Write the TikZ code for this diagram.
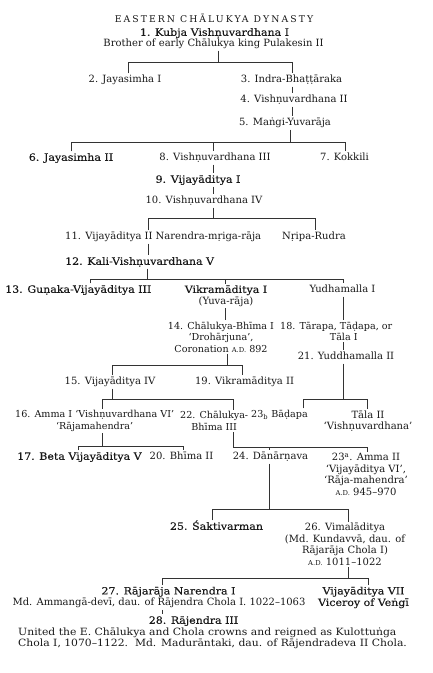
\documentclass[tikz,border=0pt]{standalone}
\usepackage{fontspec}
\setmainfont{DejaVu Serif}
\newfontfamily\titlefont{DejaVu Serif}[LetterSpace=22]
\newfontfamily\widefont{DejaVu Serif}[FakeStretch=1.08]
\newfontfamily\darkfont{DejaVu Serif}[FakeStretch=1.1,FakeBold=0.2]
\newcommand{\AD}{{\fontsize{6.8}{8}\selectfont A.D.}}
\newcommand{\dk}[1]{{\darkfont #1}}
\begin{document}
\begin{tikzpicture}[x=1pt,y=-1pt,
  lbl/.style={inner xsep=0pt, inner ysep=1.5pt, font=\fontsize{10}{11.5}\selectfont, text=black!90},
  small/.style={font=\fontsize{9.6}{11.5}\selectfont},
  one/.style={lbl, text height=7.7pt, text depth=2.2pt},
  multi/.style={lbl, align=center},
  conn/.style={line width=0.55pt, draw=black!80}]
\useasboundingbox (0,0) rectangle (433,673);
\fill[white] (0,0) rectangle (433,673);

% ---------- nodes ----------
\node[one,font=\fontsize{9.3}{11}\titlefont] (title) at (214,20) {EASTERN CHĀLUKYA DYNASTY};
\node[one] (n1) at (214.5,33) {\dk{1. Kubja Vishṇuvardhana I}};
\node[one] (n1b) at (213.5,44) {Brother of early Chālukya king Pulakesin II};
\node[one] (n2) at (125,80) {2. Jayasimha I};
\node[one] (n3) at (291.5,80) {3. Indra-Bhaṭṭāraka};
\node[one] (n4) at (294,100) {4. Vishṇuvardhana II};
\node[one] (n5) at (285,123) {5. Maṅgi-Yuvarāja};
\node[one] (n6) at (71,158) {\dk{6. Jayasimha II}};
\node[one] (n8) at (215,158) {8. Vishṇuvardhana III};
\node[one] (n7) at (344.5,158) {7. Kokkili};
\node[one] (n9) at (198,180) {\dk{9. Vijayāditya I}};
\node[one] (n10) at (204,201) {10. Vishṇuvardhana IV};
\node[one,anchor=west] (n11) at (65,237) {11. Vijayāditya II Narendra-mṛiga-rāja};
\node[one] (nr) at (314,237) {Nṛipa-Rudra};
\node[one,anchor=west] (n12) at (65,262) {\dk{12. Kali-Vishṇuvardhana V}};
\node[one,anchor=west] (n13) at (5,290) {\dk{13. Guṇaka-Vijayāditya III}};
\node[multi] (vk1) at (226,296) {\dk{Vikramāditya I}\\(Yuva-rāja)};
\node[one] (yd1) at (342.5,290) {Yudhamalla I};
\node[multi,small] (n14) at (221,337) {14. Chālukya-Bhīma I\\‘Drohārjuna’,\\Coronation \AD\ 892};
\node[multi,small,anchor=north west] (n18) at (280,320) {18. Tārapa, Tāḍapa, or\\\hspace*{15pt}Tāla I};
\node[one] (n21) at (346,357) {21. Yuddhamalla II};
\node[one] (n15) at (110,382) {15. Vijayāditya IV};
\node[one] (n19) at (244.5,382) {19. Vikramāditya II};
\node[multi,small,anchor=west] (n16) at (15,421) {16. Amma I ‘Vishṇuvardhana VI’\\‘Rājamahendra’};
\node[multi,small,anchor=west] (n22) at (180,421) {22. Chālukya-\\Bhīma III};
\node[one,small,anchor=west] (n23b) at (251,415) {23\textsubscript{b} Bāḍapa};
\node[multi] (tl2) at (368,421) {Tāla II\\‘Vishṇuvardhana’};
\node[one,anchor=west] (n17) at (17,457) {\dk{17. Beta Vijayāditya V}};
\node[one] (n20) at (181.5,457) {20. Bhīma II};
\node[one] (n24) at (270.5,457) {24. Dānārṇava};
\node[multi] (n23a) at (366,474.5) {23\textsuperscript{a}. Amma II\\‘Vijayāditya VI’,\\‘Rāja-mahendra’\\\AD\ 945–970};
\node[one] (n25) at (216.5,527) {\dk{25. Śaktivarman}};
\node[multi] (n26) at (345,544.5) {26. Vimalāditya\\(Md. Kundavvā, dau. of\\Rājarāja Chola I)\\\AD\ 1011–1022};
\node[multi] (n27) at (159,597.5) {\hspace*{19pt}\dk{27. Rājarāja Narendra I}\\Md. Ammangā-devī, dau. of Rājendra Chola I. 1022–1063};
\node[multi] (vj7) at (363.5,597.5) {\dk{Vijayāditya VII}\\\dk{Viceroy of Veṅgī}};
\node[one] (n28) at (193.5,621) {\dk{28. Rājendra III}};
\node[multi,align=left,anchor=west,font=\fontsize{10}{11.3}\widefont] (note) at (18,638) {United the E. Chālukya and Chola crowns and reigned as Kulottuṅga\\Chola I, 1070–1122.\ \ Md. Madurāntaki, dau. of Rājendradeva II Chola.};

% ---------- bus coordinates ----------
\coordinate (b1L) at (128,62);  \coordinate (b1M) at (218,62);  \coordinate (b1R) at (292,62);
\coordinate (b2L) at (71,142);  \coordinate (b2C) at (213,142); \coordinate (b2M) at (290,142); \coordinate (b2R) at (345,142);
\coordinate (b3L) at (148,218); \coordinate (b3M) at (213,218); \coordinate (b3R) at (315,218);
\coordinate (b4L) at (90,279);  \coordinate (b4M) at (147,279); \coordinate (b4C) at (225,279); \coordinate (b4R) at (343,279);
\coordinate (b5L) at (112,365); \coordinate (b5M) at (227,365); \coordinate (b5R) at (242,365);
\coordinate (b6L) at (102,399); \coordinate (b6R) at (233,399);
\coordinate (b7L) at (303,399); \coordinate (b7M) at (343,399); \coordinate (b7R) at (367,399);
\coordinate (b8L) at (78,446);  \coordinate (b8R) at (183,446);
\coordinate (b9L) at (233,447); \coordinate (b9C) at (269,447); \coordinate (b9R) at (367,447);
\coordinate (b10L) at (212,509); \coordinate (b10M) at (269,509); \coordinate (b10R) at (348,509);
\coordinate (b11L) at (162,578); \coordinate (b11M) at (348,578); \coordinate (b11R) at (368,578);

% ---------- connectors ----------
\draw[conn] (n1b.south -| b1M) -- (b1M);
\draw[conn] (n2.north -| b1L) -- (b1L) -- (b1R) -- (n3.north -| b1R);
\draw[conn] (n3.south -| b1R) -- (n4.north -| b1R);
\draw[conn] (n4.south -| b1R) -- (n5.north -| b1R);

\draw[conn] (n5.south -| b2M) -- (b2M);
\draw[conn] (n6.north -| b2L) -- (b2L) -- (b2R) -- (n7.north -| b2R);
\draw[conn] (b2C) -- (n8.north -| b2C);
\draw[conn] (n8.south -| b2C) -- (n9.north -| b2C);
\draw[conn] (n9.south -| b2C) -- (n10.north -| b2C);

\draw[conn] (n10.south -| b3M) -- (b3M);
\draw[conn] (n11.north -| b3L) -- (b3L) -- (b3R) -- (nr.north -| b3R);
\draw[conn] (n11.south -| b3L) -- (n12.north -| b3L);

\draw[conn] (n12.south -| b4M) -- (b4M);
\draw[conn] (n13.north -| b4L) -- (b4L) -- (b4R) -- (yd1.north -| b4R);
\draw[conn] (b4C) -- (vk1.north -| b4C);
\draw[conn] (vk1.south -| b4C) -- (n14.north -| b4C);
\draw[conn] (yd1.south -| b4R) -- (n18.north -| b4R);
\draw[conn] (n18.south -| b4R) -- (n21.north -| b4R);

\draw[conn] (n14.south -| b5M) -- (b5M);
\draw[conn] (n15.north -| b5L) -- (b5L) -- (b5R) -- (n19.north -| b5R);

\draw[conn] (n15.south -| b5L) -- (b5L |- b6L);
\draw[conn] (n16.north -| b6L) -- (b6L) -- (b6R) -- (n22.north -| b6R);

\draw[conn] (n21.south -| b7M) -- (b7M);
\draw[conn] (n23b.north -| b7L) -- (b7L) -- (b7R) -- (tl2.north -| b7R);

\draw[conn] (n16.south -| b6L) -- (b6L |- b8L);
\draw[conn] (n17.north -| b8L) -- (b8L) -- (b8R) -- (n20.north -| b8R);

\draw[conn] (n22.south -| b9L) -- (b9L) -- (b9R) -- (n23a.north -| b9R);
\draw[conn] (b9C) -- (n24.north -| b9C);

\draw[conn] (n24.south -| b10M) -- (b10M);
\draw[conn] (n25.north -| b10L) -- (b10L) -- (b10R) -- (n26.north -| b10R);

\draw[conn] (n26.south -| b11M) -- (b11M);
\draw[conn] (n27.north -| b11L) -- (b11L) -- (b11R) -- (vj7.north -| b11R);
\draw[conn] (n27.south -| b11L) -- (n28.north -| b11L);
\end{tikzpicture}
\end{document}
